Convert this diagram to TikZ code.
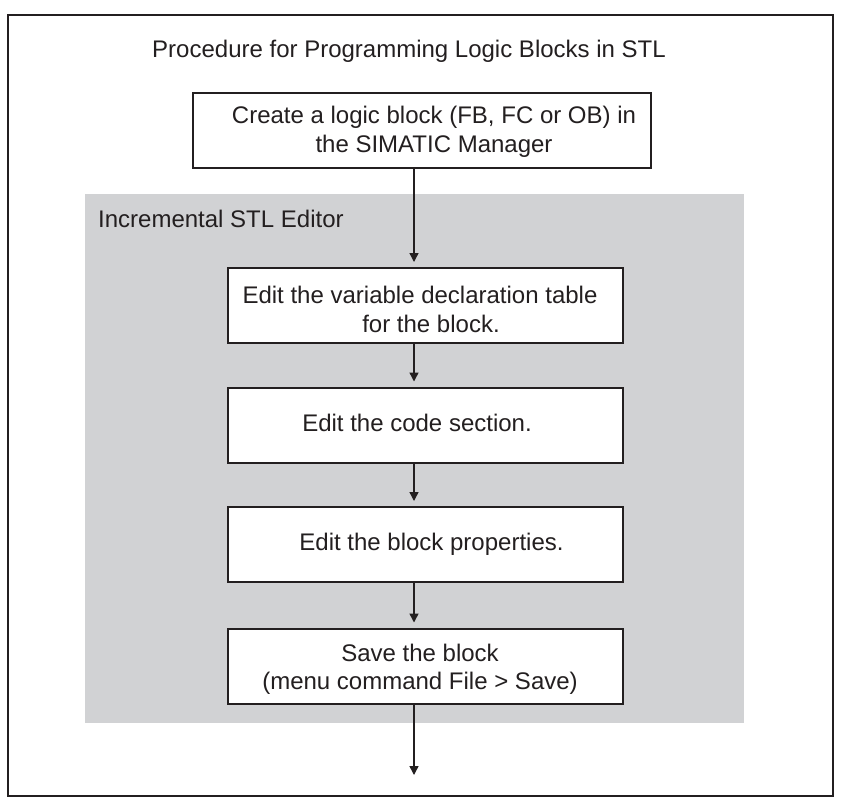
\documentclass[tikz,border=0pt]{standalone}
\usepackage{fontspec}
\setmainfont{Liberation Sans}
\usetikzlibrary{arrows.meta}
\definecolor{ink}{RGB}{35,31,32}
\definecolor{editorgray}{RGB}{209,210,212}
\tikzstyle{procbox}=[draw=ink, fill=white, line width=2pt,
                     minimum width=395pt, minimum height=75pt,
                     inner sep=0pt]
\tikzstyle{flow}=[-{Triangle[width=9pt,length=9pt]}, draw=ink,
                  line width=1.4pt, shorten >=5pt]
\begin{document}
\begin{tikzpicture}[x=1pt, y=-1pt, text=ink,
                    font=\fontsize{24}{28.5}\selectfont]
    \useasboundingbox (0,0) rectangle (850,809);
    % frame and editor area
    \draw [ink, line width=2pt] (8,15) rectangle (833,796);
    \fill [editorgray] (85,194) rectangle (744,723);

    \node (title) at (409,57) [anchor=base]
      {Procedure for Programming Logic Blocks in STL};
    \node (editor) at (98,227) [anchor=base west, inner sep=0pt]
      {Incremental STL Editor};

    \node (create) at (422,130.5) [procbox, minimum width=458pt, align=center]
      {\rule{0pt}{20pt}\hspace*{24pt}Create a logic block (FB, FC or OB) in\\
       \hspace*{24pt}the SIMATIC Manager};
    \node (decl) at (425.5,305.5) [procbox, align=center]
      {\rule{0pt}{25pt}Edit the variable declaration table\hspace*{11pt}\\
       \hspace*{11pt}for the block.};
    \node (code) at (425.5,425) [procbox, text height=17pt, text depth=5pt]
      {Edit the code section.\hspace*{17pt}};
    \node (props) at (425.5,544.5) [procbox, text height=17pt, text depth=5pt]
      {\hspace*{12pt}Edit the block properties.};
    \node (save) at (425.5,666) [procbox, align=center]
      {\rule{0pt}{24pt}Save the block\hspace*{11pt}\\
       (menu command File > Save)\hspace*{11pt}};

    \coordinate (ax) at (414,0);
    \coordinate (out) at (414,775);
    \foreach \u/\v in {create/decl,decl/code,code/props,props/save}
      \draw [flow] (\u.south -| ax) to (\v.north -| ax);
    \draw [flow, shorten >=0pt] (save.south -| ax) to (out);
\end{tikzpicture}
\end{document}
